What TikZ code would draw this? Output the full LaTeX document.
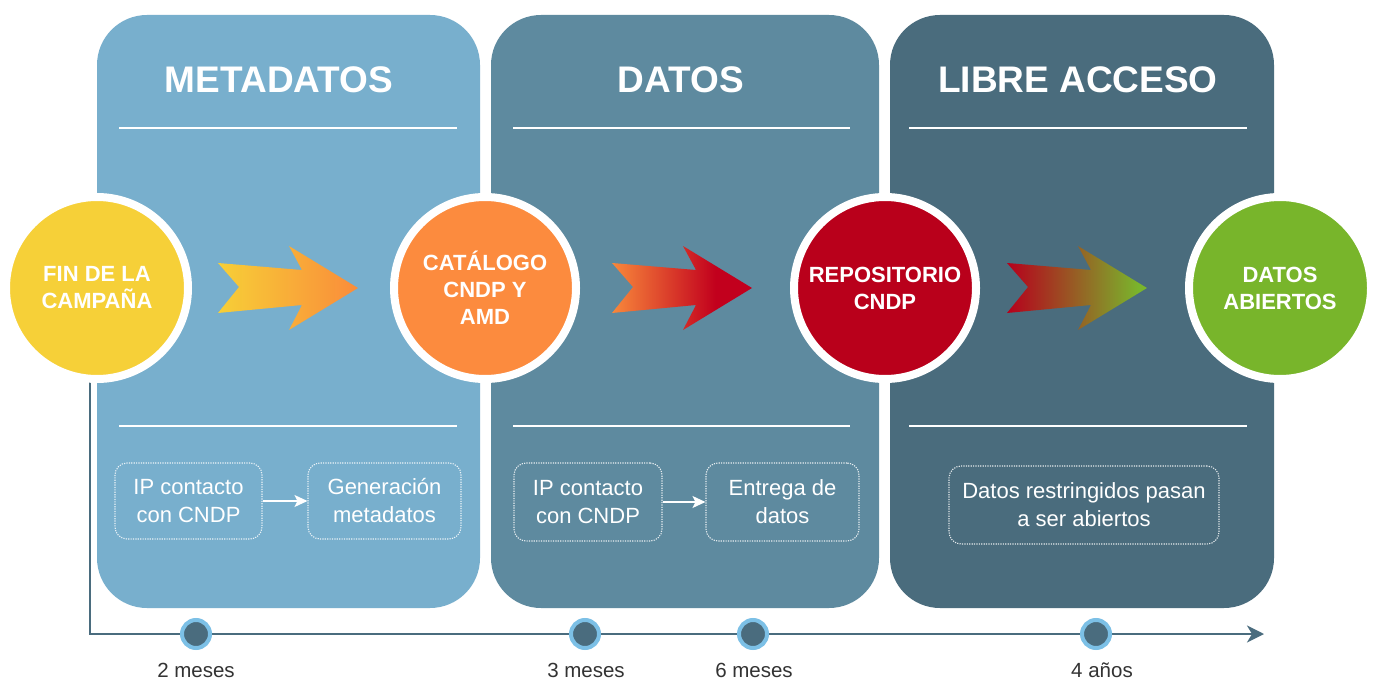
\documentclass[tikz,border=0pt]{standalone}
\usepackage{fontspec}
\setmainfont{Liberation Sans}
\usetikzlibrary{arrows.meta}

\definecolor{panelA}{HTML}{78AFCD}
\definecolor{panelB}{HTML}{5E8A9F}
\definecolor{panelC}{HTML}{4A6C7D}
\definecolor{cyellow}{HTML}{F6D038}
\definecolor{corange}{HTML}{FC8B3E}
\definecolor{cred}{HTML}{B9001B}
\definecolor{cgreen}{HTML}{78B52B}
\definecolor{tline}{HTML}{4A6C7E}
\definecolor{dotring}{HTML}{7CC0E6}
\definecolor{labelgray}{HTML}{333333}
\definecolor{gAy}{HTML}{F7CF37}
\definecolor{gAo}{HTML}{FA8C3A}
\definecolor{gBo}{HTML}{F8883B}
\definecolor{gBr}{HTML}{C2001D}
\definecolor{gCr}{HTML}{B6001C}
\definecolor{gCg}{HTML}{7AB52C}

\pgfdeclarehorizontalshading{shadeA}{100bp}{color(0bp)=(gAy); color(25bp)=(gAy); color(75bp)=(gAo); color(100bp)=(gAo)}
\pgfdeclarehorizontalshading{shadeB}{100bp}{color(0bp)=(gBo); color(25bp)=(gBo); color(62bp)=(gBr); color(100bp)=(gBr)}
\pgfdeclarehorizontalshading{shadeC}{100bp}{color(0bp)=(gCr); color(25bp)=(gCr); color(72bp)=(gCg); color(100bp)=(gCg)}

\newcommand\chevpath[1]{(#1,263) -- (#1+84,270) -- (#1+71,246) -- (#1+140,288) -- (#1+71,330) -- (#1+84,305) -- (#1,313) -- (#1+21,287) -- cycle}

\tikzset{
  panel/.style={rounded corners=50pt},
  rule/.style={white, line width=2.5pt},
  title/.style={text=white, font=\bfseries\fontsize{37}{44}\selectfont, anchor=base, inner sep=0pt},
  stage/.style={circle, draw=white, line width=8pt, minimum size=182pt, inner sep=0pt,
    text=white, font=\bfseries\fontsize{22}{27}\selectfont, align=center},
  stepbox/.style={draw=white, draw opacity=0.85, dash pattern=on 1.2pt off 1.2pt, line width=1.1pt,
    rounded corners=12pt, text=white, font=\fontsize{22}{28}\selectfont, align=center,
    inner sep=0pt},
  boxarrow/.style={white, line width=1.5pt, -{Stealth[length=13pt,width=12pt,inset=3pt]}},
  tick/.style={circle, fill=tline, draw=dotring, line width=4pt, minimum size=28pt, inner sep=0pt},
  ticklabel/.style={text=labelgray, font=\fontsize{20.5}{24}\selectfont, anchor=base, inner sep=0pt},
}

\begin{document}
\begin{tikzpicture}[x=1pt,y=-1pt]
\useasboundingbox (0,0) rectangle (1373,679);
\fill[white] (0,0) rectangle (1373,679);

% panels
\fill[panelA, panel] (97,15) rectangle (480,608);
\fill[panelB, panel] (491,15) rectangle (879,608);
\fill[panelC, panel] (890,15) rectangle (1274,608);

% titles
\node[title] (t1) at (279,93) {METADATOS};
\node[title] (t2) at (681,93) {DATOS};
\node[title] (t3) at (1078,93) {LIBRE ACCESO};

% rules
\draw[rule] (119,128) -- (457,128);
\draw[rule] (513,128) -- (850,128);
\draw[rule] (909,128) -- (1247,128);
\draw[rule] (119,426) -- (457,426);
\draw[rule] (513,426) -- (850,426);
\draw[rule] (909,426) -- (1247,426);

% timeline
\coordinate (tstart) at (90,370);
\coordinate (tend) at (1264,634);
\draw[tline, line width=2.5pt, -{Stealth[length=17pt,width=17pt,inset=5pt]}] (tstart) |- (tend);

% gradient arrows
\shade[shading=shadeA] \chevpath{218};
\shade[shading=shadeB] \chevpath{612};
\shade[shading=shadeC] \chevpath{1007};

% stage circles
\node[stage, fill=cyellow] (c1) at (97,288) {FIN DE LA\\CAMPAÑA};
\node[stage, fill=corange] (c2) at (485,288) {CATÁLOGO\\CNDP Y\\AMD};
\node[stage, fill=cred] (c3) at (885,288) {REPOSITORIO\\CNDP};
\node[stage, fill=cgreen] (c4) at (1280,288) {DATOS\\ABIERTOS};

% step boxes
\node[stepbox, minimum width=147pt, minimum height=76pt] (b1) at (188.5,501) {IP contacto\\con CNDP};
\node[stepbox, minimum width=153pt, minimum height=76pt] (b2) at (384.5,501) {Generación\\metadatos};
\node[stepbox, minimum width=148pt, minimum height=78pt] (b3) at (588,502) {IP contacto\\con CNDP};
\node[stepbox, minimum width=153pt, minimum height=78pt] (b4) at (782.5,502) {Entrega de\\datos};
\node[stepbox, minimum width=270pt, minimum height=78pt] (b5) at (1084,505) {Datos restringidos pasan\\a ser abiertos};
\draw[boxarrow] (b1) -- (b2);
\draw[boxarrow] (b3) -- (b4);

% ticks
\node[tick] (d1) at (196,634) {};
\node[tick] (d2) at (585,634) {};
\node[tick] (d3) at (753,634) {};
\node[tick] (d4) at (1096,634) {};
\node[ticklabel] (l1) at (196,677) {2 meses};
\node[ticklabel] (l2) at (586,677) {3 meses};
\node[ticklabel] (l3) at (754,677) {6 meses};
\node[ticklabel] (l4) at (1102,677) {4 años};
\end{tikzpicture}
\end{document}
